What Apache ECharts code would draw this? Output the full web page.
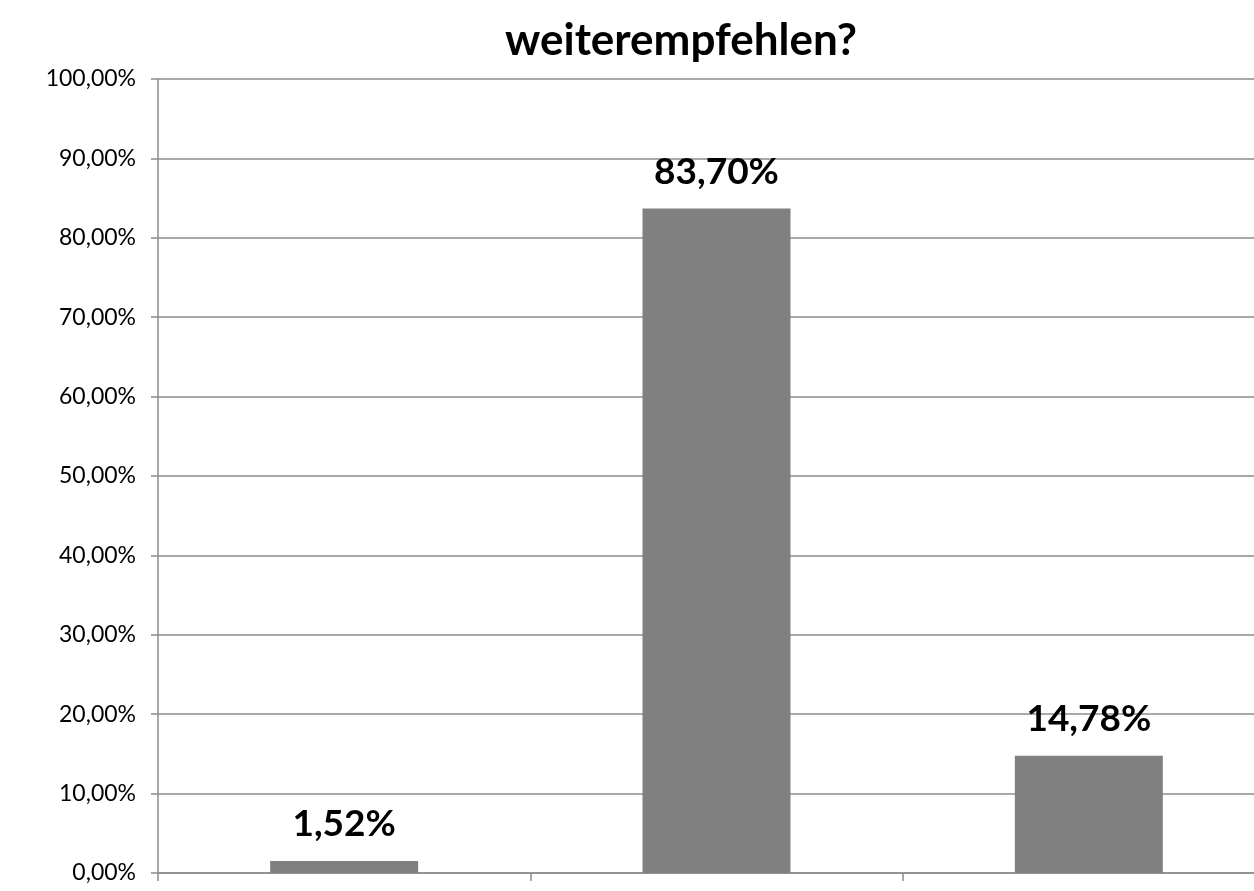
<!DOCTYPE html>
<html>
<head>
<meta charset="utf-8">
<script src="https://cdn.jsdelivr.net/npm/echarts@6/dist/echarts.min.js"></script>
<style>
html,body{margin:0;padding:0;background:#fff;}
#c{width:1254px;height:891px;}
</style>
</head>
<body>
<div id="c"></div>
<script>
const titleText = "weiterempfehlen?";
const categories = ["Nein", "Ja", "Weiß nicht"];
const values = [1.52, 83.70, 14.78];
const yTicks = [0, 10, 20, 30, 40, 50, 60, 70, 80, 90, 100];

const fmt = v => v.toFixed(2).replace('.', ',') + '%';

const chart = echarts.init(document.getElementById('c'));
chart.setOption({
  animation: false,
  backgroundColor: '#fff',
  title: {
    text: titleText,
    left: 676,
    textAlign: 'center',
    top: 14,
    textStyle: { fontFamily: 'Lato', fontWeight: 'bold', fontSize: 44, color: '#000' }
  },
  grid: { left: 158, top: 79, bottom: 18, right: -21, outerBoundsMode: 'none' },
  xAxis: {
    type: 'category',
    data: categories,
    axisLine: { lineStyle: { color: '#8c8c8c', width: 1.5 } },
    axisTick: { show: true, length: 8, lineStyle: { color: '#8c8c8c', width: 1.5 } },
    axisLabel: { show: false }
  },
  yAxis: {
    type: 'value',
    min: yTicks[0],
    max: yTicks[yTicks.length - 1],
    interval: 10,
    axisLine: { show: true, lineStyle: { color: '#8c8c8c', width: 1.5 } },
    axisTick: { show: true, length: 7, lineStyle: { color: '#8c8c8c', width: 1.5 } },
    splitLine: { lineStyle: { color: '#8c8c8c', width: 1.5 } },
    axisLabel: {
      formatter: v => fmt(v),
      fontFamily: 'Lato', fontSize: 23, color: '#000', margin: 22
    }
  },
  series: [{
    type: 'bar',
    data: values,
    barWidth: 148,
    itemStyle: { color: '#808080' },
    label: {
      show: true,
      position: 'top',
      distance: 18,
      formatter: p => fmt(p.value),
      fontFamily: 'Lato', fontWeight: 'bold', fontSize: 37, color: '#000'
    }
  }]
});
</script>
</body>
</html>
